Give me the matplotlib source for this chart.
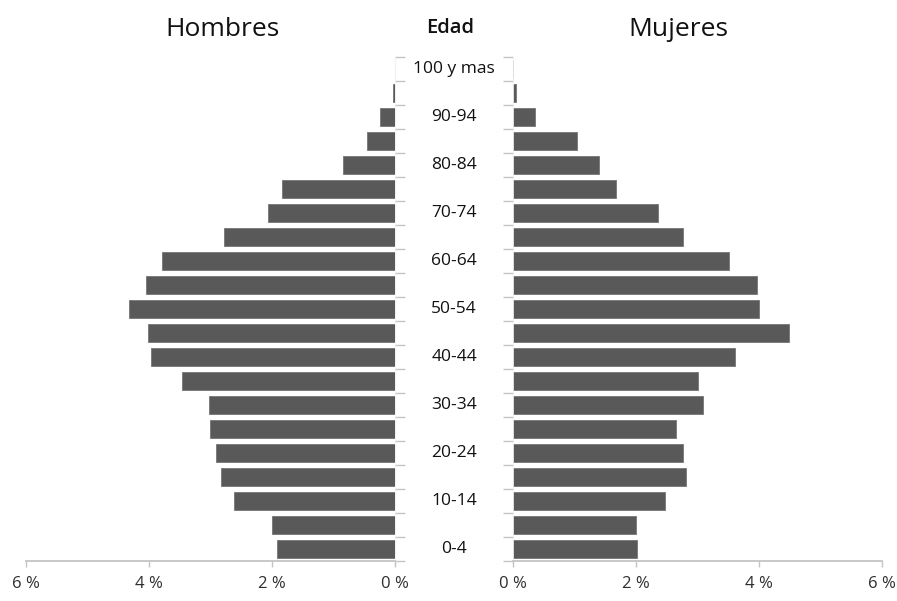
import matplotlib
matplotlib.use("Agg")
import matplotlib.pyplot as plt
from matplotlib.transforms import blended_transform_factory

# Age groups, youngest first
age_groups = ["0-4", "5-9", "10-14", "15-19", "20-24", "25-29", "30-34", "35-39",
              "40-44", "45-49", "50-54", "55-59", "60-64", "65-69", "70-74",
              "75-79", "80-84", "85-89", "90-94", "95-99", "100 y mas"]

# Share of total population (%)
hombres = [1.91, 2.00, 2.61, 2.83, 2.91, 3.00, 3.02, 3.46, 3.97, 4.01, 4.32,
           4.05, 3.79, 2.78, 2.06, 1.83, 0.84, 0.45, 0.24, 0.03, 0.0]
mujeres = [2.01, 2.00, 2.47, 2.81, 2.76, 2.65, 3.09, 3.01, 3.61, 4.49, 4.00,
           3.97, 3.51, 2.76, 2.36, 1.67, 1.40, 1.04, 0.35, 0.05, 0.0]

x_ticks = [0, 2, 4, 6]
x_tick_labels = ["0 %", "2 %", "4 %", "6 %"]

FONT = ["Open Sans", "DejaVu Sans"]
plt.rcParams["font.family"] = FONT

BAR = "#595959"
EDGE = "#767676"
AXIS = "#c4c4c4"
TEXT = "#111111"

W, H = 897, 601
fig = plt.figure(figsize=(W / 100, H / 100), dpi=100)
fig.patch.set_facecolor("white")

bottom_px, top_px = 561, 57
fb = 1 - bottom_px / H
fh = (bottom_px - top_px) / H
axL = fig.add_axes([26 / W, fb, (394.5 - 26) / W, fh])
axR = fig.add_axes([513.3 / W, fb, (882 - 513.3) / W, fh])

ypos = list(range(len(age_groups)))
boundaries = [i - 0.5 for i in range(len(age_groups) + 1)]

for ax, vals, side in ((axL, hombres, "right"), (axR, mujeres, "left")):
    ax.barh(ypos, vals, height=0.72, color=BAR, edgecolor=EDGE, linewidth=0.6)
    ax.set_xlim(0, 6)
    ax.set_ylim(-0.5, len(age_groups) - 0.5)
    for s in ax.spines.values():
        s.set_visible(False)
    ax.spines["bottom"].set_visible(True)
    ax.spines["bottom"].set_color(AXIS)
    ax.spines["bottom"].set_linewidth(1.3)
    ax.spines[side].set_visible(True)
    ax.spines[side].set_color("#efefef")
    ax.spines[side].set_linewidth(0.6)
    ax.set_yticks(boundaries)
    ax.set_yticklabels([])
    ax.yaxis.set_ticks_position(side)
    ax.tick_params(axis="y", direction="out", length=7.5, width=1.0, color=AXIS)
    ax.set_xticks(x_ticks)
    ax.set_xticklabels(x_tick_labels)
    ax.tick_params(axis="x", direction="out", length=4, width=1.0, color=AXIS,
                   labelsize=12, labelcolor="#2e2e2e", pad=7)
    ax.set_facecolor("none")

axL.invert_xaxis()

# Age labels in the central column (every other group)
trans = blended_transform_factory(fig.transFigure, axL.transData)
for i, lab in enumerate(age_groups):
    if i % 2 == 0:
        axL.text(454 / W, i, lab, transform=trans, ha="center", va="center",
                 fontsize=12.5, color=TEXT, clip_on=False)

fig.text(222 / W, 1 - 29 / H, "Hombres", ha="center", va="center",
         fontsize=19, color=TEXT)
fig.text(450 / W, 1 - 28 / H, "Edad", ha="center", va="center",
         fontsize=14.5, fontweight="semibold", color=TEXT)
fig.text(678 / W, 1 - 29 / H, "Mujeres", ha="center", va="center",
         fontsize=19, color=TEXT)

fig.savefig("out.png", dpi=100, facecolor="white")
